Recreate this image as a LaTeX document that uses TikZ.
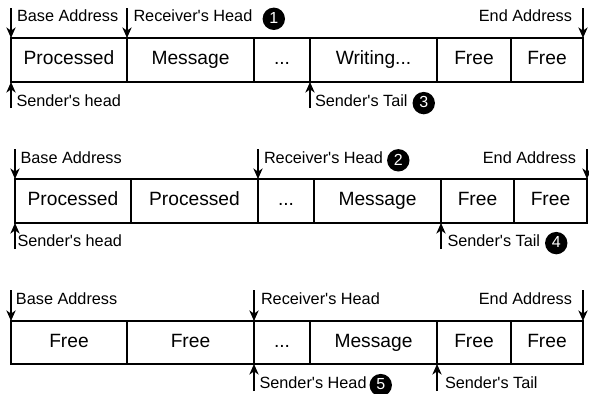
\documentclass[tikz,border=0pt]{standalone}
\usepackage{fontspec}
\setmainfont{Liberation Sans}
% family without TeX ligature mapping, so ' stays a straight apostrophe
\newfontfamily\lbfont{Liberation Sans}
\usetikzlibrary{arrows.meta}

% one memory slot: name, left x, right x, top y, bottom y, text
\newcommand\memcell[6]{%
  \node[cell, minimum width={(#3-#2)*0.75pt}, minimum height={(#5-#4)*0.75pt}]
    (#1) at ({(#2+#3)/2},{(#4+#5)/2}) {#6};}

\begin{document}
\begin{tikzpicture}[x=0.75pt,y=-0.75pt,
  cell/.style={draw=black, line width=0.9pt, inner sep=0pt, outer sep=0pt,
    font=\lbfont\fontsize{14.4}{16}\selectfont, text height=0.716em, text depth=0pt},
  lbl/.style={inner sep=0pt, outer sep=0pt,
    font=\lbfont\fontsize{12.2}{14}\selectfont, text height=0.716em, text depth=0pt},
  badge/.style={circle, fill=black, text=white, inner sep=0pt, minimum size=16.8pt,
    font=\lbfont\fontsize{12}{13}\selectfont, text height=0.716em, text depth=0pt},
  ptr/.style={draw=black, line width=0.8pt,
    -{Stealth[length=8pt,width=7pt,inset=2.5pt]}},
]
\useasboundingbox (0,0) rectangle (589,393);

% ---------- buffer state 1 ----------
\memcell{a1}{11}{127}{38}{82}{Processed}
\memcell{a2}{127}{254}{38}{82}{Message}
\memcell{a3}{254}{310}{38}{82}{...}
\memcell{a4}{310}{437}{38}{82}{Writing...}
\memcell{a5}{437}{511}{38}{82}{Free}
\memcell{a6}{511}{583}{38}{82}{Free}

\coordinate (aBase) at (11,8);
\coordinate (aRecv) at (127,8);
\coordinate (aEnd) at (583,8);
\coordinate (aSHead) at (11,108);
\coordinate (aSTail) at (310,108);
\draw[ptr] (aBase) -- (a1.north west);
\draw[ptr] (aRecv) -- (a2.north west);
\draw[ptr] (aEnd) -- (a6.north east);
\draw[ptr] (aSHead) -- (a1.south west);
\draw[ptr] (aSTail) -- (a4.south west);

\node[lbl, anchor=west] (aBaseL) at (17,17.2) {Base Address};
\node[lbl, anchor=west] (aRecvL) at (133.5,17.2) {Receiver's Head};
\node[lbl, anchor=east] (aEndL) at (572,17.2) {End Address};
\node[lbl, anchor=west] (aSHeadL) at (16.5,101.5) {Sender's head};
\node[lbl, anchor=west] (aSTailL) at (315,101.5) {Sender's Tail};
\node[badge, anchor=west] (n1) at ([xshift=7.5pt,yshift=-1.2pt]aRecvL.east) {1};
\node[badge, anchor=west] (n3) at ([xshift=3.5pt,yshift=-1.2pt]aSTailL.east) {3};

% ---------- buffer state 2 ----------
\memcell{b1}{15}{131}{179}{223}{Processed}
\memcell{b2}{131}{258}{179}{223}{Processed}
\memcell{b3}{258}{314}{179}{223}{...}
\memcell{b4}{314}{441}{179}{223}{Message}
\memcell{b5}{441}{514}{179}{223}{Free}
\memcell{b6}{514}{587}{179}{223}{Free}

\coordinate (bBase) at (15,149);
\coordinate (bRecv) at (258,149);
\coordinate (bEnd) at (587,149);
\coordinate (bSHead) at (15,249);
\coordinate (bSTail) at (441,249);
\draw[ptr] (bBase) -- (b1.north west);
\draw[ptr] (bRecv) -- (b3.north west);
\draw[ptr] (bEnd) -- (b6.north east);
\draw[ptr] (bSHead) -- (b1.south west);
\draw[ptr] (bSTail) -- (b5.south west);

\node[lbl, anchor=west] (bBaseL) at (20.5,158.7) {Base Address};
\node[lbl, anchor=west] (bRecvL) at (264,158.7) {Receiver's Head};
\node[lbl, anchor=east] (bEndL) at (576,158.7) {End Address};
\node[lbl, anchor=west] (bSHeadL) at (17.5,241.5) {Sender's head};
\node[lbl, anchor=west] (bSTailL) at (447.5,241.5) {Sender's Tail};
\node[badge, anchor=west] (n2) at ([xshift=3pt,yshift=-1.2pt]bRecvL.east) {2};
\node[badge, anchor=west] (n4) at ([xshift=3.5pt,yshift=-1.2pt]bSTailL.east) {4};

% ---------- buffer state 3 ----------
\memcell{c1}{11}{127}{321}{364}{Free}
\memcell{c2}{127}{254}{321}{364}{Free}
\memcell{c3}{254}{310}{321}{364}{...}
\memcell{c4}{310}{437}{321}{364}{Message}
\memcell{c5}{437}{511}{321}{364}{Free}
\memcell{c6}{511}{583}{321}{364}{Free}

\coordinate (cBase) at (11,290);
\coordinate (cRecv) at (254,290);
\coordinate (cEnd) at (583,290);
\coordinate (cSHead) at (254,391);
\coordinate (cSTail) at (437,391);
\draw[ptr] (cBase) -- (c1.north west);
\draw[ptr] (cRecv) -- (c3.north west);
\draw[ptr] (cEnd) -- (c6.north east);
\draw[ptr] (cSHead) -- (c3.south west);
\draw[ptr] (cSTail) -- (c5.south west);

\node[lbl, anchor=west] (cBaseL) at (16,299.5) {Base Address};
\node[lbl, anchor=west] (cRecvL) at (261,299.5) {Receiver's Head};
\node[lbl, anchor=east] (cEndL) at (572,299.5) {End Address};
\node[lbl, anchor=west] (cSHeadL) at (259.5,383.5) {Sender's Head};
\node[lbl, anchor=west] (cSTailL) at (445,383.5) {Sender's Tail};
\node[badge, anchor=west] (n5) at ([xshift=2pt,yshift=-1.2pt]cSHeadL.east) {5};
\end{tikzpicture}
\end{document}
